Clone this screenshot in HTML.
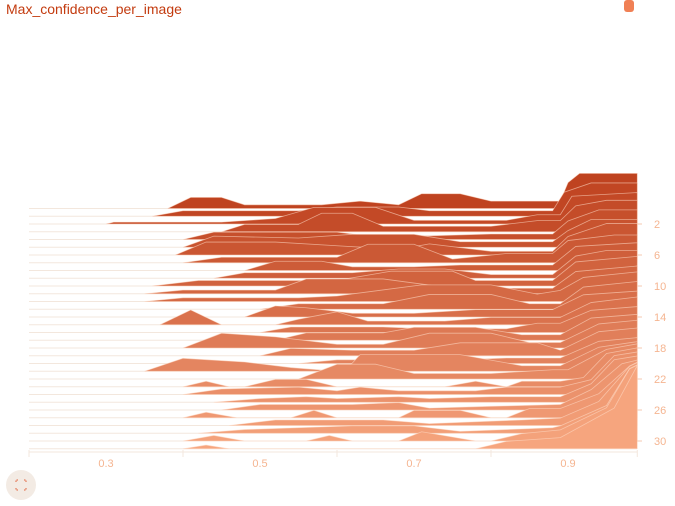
<!DOCTYPE html>
<html><head><meta charset="utf-8"><style>
body{margin:0;background:#fff;width:675px;height:506px;overflow:hidden;font-family:"Liberation Sans",sans-serif}
#title{position:absolute;left:6px;top:1px;font-size:14px;color:#c33b0f}
#badge{position:absolute;left:624px;top:0;width:10px;height:12px;background:#f08055;border-radius:3px}
#fit{position:absolute;left:6px;top:470px;width:30px;height:30px;border-radius:50%;background:#f3ebe4}
</style></head><body>
<div id="title">Max_confidence_per_image</div>
<div id="badge"></div>
<div id="fit"><svg width="30" height="30"><path d="M10 12V10H12M18 10H20V12M20 18V20H18M12 20H10V18" stroke="#e0603a" stroke-width="1" fill="none" stroke-dasharray="1.5 1"/></svg></div>
<svg id="chart" width="675" height="506" style="position:absolute;left:0;top:0"></svg>
<script>
const steps=[...Array(32).keys()];
const xTicks=[0.3,0.5,0.7,0.9];
const yTicks=[2,6,10,14,18,22,26,30];
const rows=[
[[0.38,0],[0.41,6],[0.45,6],[0.48,2],[0.58,2],[0.63,4],[0.68,2],[0.71,8],[0.76,8],[0.80,4],[0.89,4],[0.90,14],[0.915,19],[0.99,19]],
[[0.36,0],[0.40,3],[0.55,3],[0.60,5],[0.68,5],[0.72,3],[0.88,3],[0.895,13],[0.93,18],[0.99,18]],
[[0.30,0],[0.31,1],[0.45,1],[0.52,3],[0.57,9],[0.65,9],[0.70,2],[0.82,2],[0.86,5],[0.89,5],[0.905,15],[0.99,17]],
[[0.45,0],[0.48,4],[0.55,4],[0.58,10],[0.62,10],[0.66,3],[0.80,3],[0.86,6],[0.89,6],[0.91,14],[0.95,17],[0.99,17]],
[[0.40,0],[0.44,4],[0.60,4],[0.64,2],[0.72,2],[0.80,3],[0.88,3],[0.90,10],[0.94,16],[0.99,16]],
[[0.40,0],[0.44,6],[0.55,5],[0.62,7],[0.70,7],[0.76,3],[0.88,3],[0.90,9],[0.93,15],[0.99,15]],
[[0.39,0],[0.43,7],[0.52,7],[0.60,5],[0.68,3],[0.72,6],[0.80,2],[0.88,2],[0.90,10],[0.95,17],[0.99,17]],
[[0.40,0],[0.45,3],[0.60,3],[0.64,10],[0.70,10],[0.75,2],[0.82,5],[0.88,5],[0.90,12],[0.96,15],[0.99,15]],
[[0.48,0],[0.52,5],[0.58,5],[0.62,2],[0.70,2],[0.76,3],[0.88,3],[0.91,13],[0.99,15]],
[[0.44,0],[0.48,3],[0.62,3],[0.68,5],[0.74,5],[0.80,2],[0.88,2],[0.91,12],[0.95,15],[0.99,15]],
[[0.36,0],[0.42,3],[0.60,3],[0.67,8],[0.75,8],[0.78,3],[0.88,3],[0.91,13],[0.99,16]],
[[0.35,0],[0.40,2],[0.52,2],[0.56,8],[0.66,8],[0.75,3],[0.88,3],[0.91,12],[0.99,15]],
[[0.35,0],[0.40,2],[0.55,2],[0.60,3],[0.71,9],[0.80,9],[0.86,4],[0.89,6],[0.92,13],[0.99,16]],
[[0.50,0],[0.55,3],[0.66,3],[0.72,8],[0.80,8],[0.85,3],[0.89,3],[0.92,12],[0.99,15]],
[[0.48,0],[0.52,6],[0.56,5],[0.62,2],[0.70,2],[0.78,4],[0.88,4],[0.92,12],[0.99,14]],
[[0.37,0],[0.41,8],[0.45,0],[0.52,0],[0.55,3],[0.60,7],[0.64,2],[0.74,2],[0.80,4],[0.89,4],[0.93,12],[0.99,15]],
[[0.50,0],[0.54,3],[0.66,3],[0.72,2],[0.82,2],[0.86,5],[0.89,5],[0.93,12],[0.99,14]],
[[0.52,0],[0.56,4],[0.66,4],[0.70,7],[0.78,7],[0.84,3],[0.89,3],[0.93,12],[0.99,14]],
[[0.40,0],[0.45,8],[0.52,6],[0.60,2],[0.66,2],[0.72,8],[0.80,8],[0.85,3],[0.89,3],[0.94,13],[0.99,15]],
[[0.50,0],[0.54,4],[0.62,3],[0.70,3],[0.76,7],[0.86,7],[0.89,3],[0.94,13],[0.99,15]],
[[0.55,0],[0.60,2],[0.76,2],[0.82,3],[0.89,3],[0.94,12],[0.99,14]],
[[0.35,0],[0.40,7],[0.48,5],[0.54,2],[0.60,0],[0.61,0],[0.63,9],[0.76,9],[0.84,3],[0.89,3],[0.94,13],[0.99,16]],
[[0.55,0],[0.60,8],[0.65,8],[0.70,3],[0.80,3],[0.88,5],[0.90,5],[0.95,16],[0.99,19]],
[[0.40,0],[0.43,3],[0.46,0],[0.48,0],[0.52,4],[0.56,4],[0.60,0],[0.74,0],[0.78,3],[0.82,0],[0.84,3],[0.89,3],[0.92,5],[0.95,18],[0.99,21]],
[[0.40,0],[0.45,3],[0.55,4],[0.60,2],[0.63,4],[0.68,2],[0.78,2],[0.82,4],[0.89,4],[0.93,8],[0.96,21],[0.99,23]],
[[0.44,0],[0.50,2],[0.56,3],[0.60,2],[0.68,3],[0.72,2],[0.80,3],[0.89,3],[0.93,10],[0.96,23],[0.99,25]],
[[0.45,0],[0.50,3],[0.62,3],[0.68,4],[0.72,1],[0.80,2],[0.89,3],[0.93,11],[0.97,25],[0.99,27]],
[[0.40,0],[0.43,3],[0.47,0],[0.54,0],[0.57,4],[0.60,0],[0.68,0],[0.70,4],[0.76,4],[0.80,0],[0.82,0],[0.85,5],[0.89,5],[0.94,13],[0.98,28],[0.99,30]],
[[0.46,0],[0.52,3],[0.66,3],[0.72,1],[0.84,3],[0.89,4],[0.94,13],[0.98,32],[0.99,34]],
[[0.42,0],[0.48,2],[0.62,4],[0.70,4],[0.76,1],[0.88,3],[0.89,4],[0.95,15],[0.98,35],[0.99,37]],
[[0.40,0],[0.44,3],[0.48,0],[0.56,0],[0.59,3],[0.62,0],[0.68,0],[0.71,5],[0.78,0],[0.80,0],[0.84,4],[0.89,6],[0.95,18],[0.98,39],[0.99,41]],
[[0.40,0],[0.43,2],[0.46,0],[0.78,0],[0.82,4],[0.89,6],[0.96,22],[0.99,45]]
];
const NS="http://www.w3.org/2000/svg";
const svg=document.getElementById('chart');
const X=v=>106+(v-0.3)*770;
const Yb=s=>208.5+s*7.75;
const H=v=>v*1.85;
function mk(t,a){const e=document.createElementNS(NS,t);for(const k in a)e.setAttribute(k,a[k]);svg.appendChild(e);return e;}
function col(i){const t=i/31;const a=[191,67,32],b=[246,165,126];return `rgb(${a.map((c,j)=>Math.round(c+(b[j]-c)*t)).join(',')})`;}
steps.forEach(i=>{
  const y0=Yb(i);
  const bl=mk('line',{x1:29,x2:637,y1:y0,y2:y0,stroke:'#f3e7dd','stroke-width':1});
  
  
  const pts=rows[i];
  let d=`M${X(pts[0][0])},${y0}`;
  pts.forEach(p=>{d+=`L${X(p[0])},${y0-H(p[1])}`;});
  d+=`L${X(pts[pts.length-1][0])},${y0}Z`;
  const c=col(i);
  const p=mk('path',{d:d,fill:c,stroke:'rgba(255,220,200,0.6)','stroke-width':0.8});
  
  
});
yTicks.forEach(s=>{
  const y=Yb(s);
  const l=mk('line',{x1:637,x2:642,y1:y,y2:y,stroke:'#f5c9b0'});
  
  
  const t=mk('text',{x:654,y:y+4,'font-size':11,fill:'#f5b591','font-family':'Liberation Sans, sans-serif'});
  t.textContent=s;
  
  
});
const ax=mk('line',{x1:29,x2:637,y1:452,y2:452,stroke:'#f3e7dd'});


[0.2,0.4,0.6,0.8,0.99].forEach(v=>{const l=mk('line',{x1:X(v),x2:X(v),y1:450,y2:457,stroke:'#f3e7dd'});
  
  });
xTicks.forEach(v=>{
  const t=mk('text',{x:X(v),y:467,'font-size':11,fill:'#f5b591','text-anchor':'middle','font-family':'Liberation Sans, sans-serif'});
  t.textContent=v;
  
  
});
</script>
</body></html>
